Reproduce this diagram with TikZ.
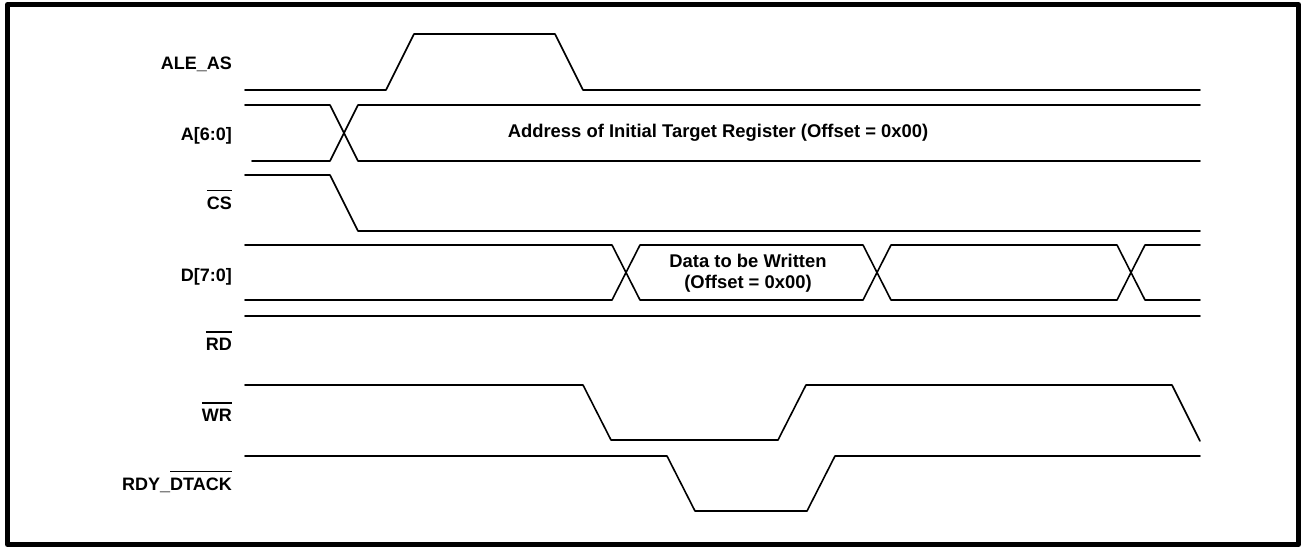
\documentclass[tikz,border=0pt]{standalone}
\usepackage{fontspec}
\setmainfont{Liberation Sans}
\usetikzlibrary{arrows}
\newcommand{\nbar}[1]{\setbox0\hbox{#1}\rlap{\raisebox{\dimexpr\ht0+5pt\relax}{\rule{\wd0}{1.4pt}}}\box0}

\begin{document}
\begin{tikzpicture}[line cap=round,line join=round,x=1pt,y=-1pt,
  wave/.style={line width=1.6pt},
  sig/.style={anchor=base east,inner sep=0pt,font=\bfseries\fontsize{18}{20}\selectfont},
  txt/.style={align=center,inner sep=0pt,font=\bfseries\fontsize{18.4}{21}\selectfont}]
\useasboundingbox (0,0) rectangle (1303,549);
\draw[line width=5pt] (7.5,4.5) rectangle (1298.5,544.5);
% signal names
\node[sig] (ale) at (232,69) {ALE\_AS};
\node[sig] (addr) at (232,140) {A[6:0]};
\node[sig] (cs) at (232,209) {\nbar{CS}};
\node[sig] (data) at (232,281) {D[7:0]};
\node[sig] (rd) at (232,350) {\nbar{RD}};
\node[sig] (wr) at (232,421) {\nbar{WR}};
\node[sig] (rdy) at (232,490) {RDY\_\nbar{DTACK}};
% ALE_AS
\draw[wave] (245,90)-- (386,90)-- (414,34)-- (555,34)-- (583,90)-- (1200,90);
% A[6:0]
\draw[wave] (245,105)-- (330,105)-- (358,161)-- (1200,161);
\draw[wave] (252,161)-- (330,161)-- (358,105)-- (1200,105);
\node[txt] (atext) at (718,133) {Address of Initial Target Register (Offset = 0x00)};
% CS
\draw[wave] (245,175)-- (330,175)-- (358,231)-- (1200,231);
% D[7:0]
\draw[wave] (245,245)-- (612,245)-- (640,300)-- (863,300)-- (891,245)-- (1117,245)-- (1145,300)-- (1200,300);
\draw[wave] (245,300)-- (612,300)-- (640,245)-- (863,245)-- (891,300)-- (1117,300)-- (1145,245)-- (1200,245);
\node[txt] (dtext) at (748,273) {Data to be Written\\(Offset = 0x00)};
% RD
\draw[wave] (245,316)-- (1200,316);
% WR
\draw[wave] (245,385)-- (583,385)-- (611,440)-- (778,440)-- (806,385)-- (1172,385)-- (1200,441);
% RDY_DTACK
\draw[wave] (245,456)-- (667,456)-- (695,511)-- (807,511)-- (835,456)-- (1200,456);
\end{tikzpicture}
\end{document}
